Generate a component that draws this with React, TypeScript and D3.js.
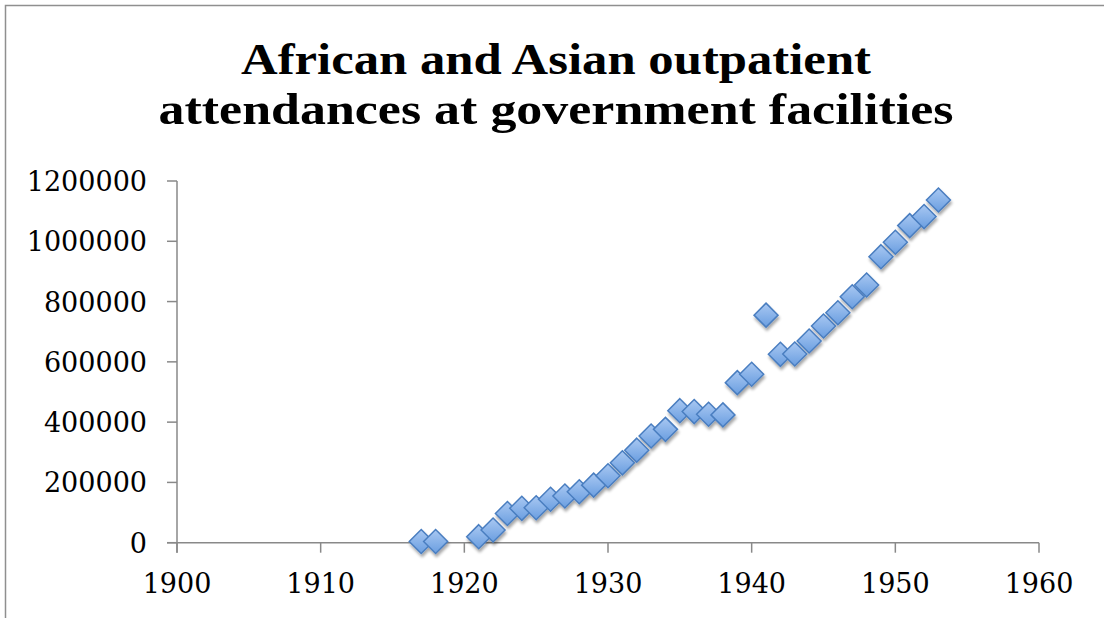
import React from "react";
import * as d3 from "d3";

const years = [1917, 1918, 1921, 1922, 1923, 1924, 1925, 1926, 1927, 1928, 1929, 1930, 1931, 1932, 1933, 1934, 1935, 1936, 1937, 1938, 1939, 1940, 1941, 1942, 1943, 1944, 1945, 1946, 1947, 1948, 1949, 1950, 1951, 1952, 1953];
const attendances = [4000, 4000, 20000, 42000, 97000, 114000, 116000, 144000, 155000, 169000, 191000, 222000, 265000, 307000, 354000, 376000, 438000, 435000, 426000, 424000, 531000, 559000, 755000, 625000, 626000, 669000, 719000, 763000, 816000, 855000, 949000, 997000, 1052000, 1082000, 1137000];
const xTicks = [1900, 1910, 1920, 1930, 1940, 1950, 1960];
const yTicks = [0, 200000, 400000, 600000, 800000, 1000000, 1200000];
const titleLines = ["African and Asian outpatient", "attendances at government facilities"];

export default function App() {
  const W = 1104, H = 618;
  const x = d3.scaleLinear().domain([1900, 1960]).range([177, 1039]);
  const y = d3.scaleLinear().domain([0, 1200000]).range([542.7, 181]);
  const r = 12;
  const diamond = (cx: number, cy: number) => `M${cx},${cy - r}L${cx + r},${cy}L${cx},${cy + r}L${cx - r},${cy}Z`;
  const axisColor = "#898989";
  const tickFont = "'DejaVu Serif', serif";
  const titleWidths = [630, 795];
  return (
    <svg width={W} height={H} style={{ position: "absolute", left: 0, top: 0, background: "#fff" }}>
      <defs>
        <linearGradient id="mk" x1="0" y1="0" x2="0" y2="1">
          <stop offset="0" stopColor="#a9c8f2" />
          <stop offset="1" stopColor="#6a9ee0" />
        </linearGradient>
        <filter id="sh" x="-50%" y="-50%" width="200%" height="200%">
          <feGaussianBlur in="SourceAlpha" stdDeviation="1.8" />
          <feOffset dx="1" dy="3" result="b" />
          <feComponentTransfer><feFuncA type="linear" slope="0.35" /></feComponentTransfer>
          <feMerge><feMergeNode /><feMergeNode in="SourceGraphic" /></feMerge>
        </filter>
      </defs>
      <rect x={5.5} y={5.5} width={W + 10} height={H + 10} fill="none" stroke="#8f8f8f" strokeWidth={1.5} />
      {titleLines.map((t, i) => (
        <text key={t} x={556} y={74 + i * 50} textAnchor="middle" textLength={titleWidths[i]} lengthAdjust="spacingAndGlyphs" fontFamily="'Liberation Serif', serif" fontWeight="bold" fontSize={45} fill="#000">{t}</text>
      ))}
      {/* y axis */}
      <line x1={x(1900)} x2={x(1900)} y1={y(1200000)} y2={y(0) + 10} stroke={axisColor} strokeWidth={1.5} />
      {yTicks.map(v => (
        <g key={v}>
          <line x1={x(1900) - 10} x2={x(1900)} y1={y(v)} y2={y(v)} stroke={axisColor} strokeWidth={1.5} />
          <text x={147} y={y(v) + 10} textAnchor="end" fontFamily={tickFont} fontSize={27} fill="#000">{v}</text>
        </g>
      ))}
      {/* x axis */}
      <line x1={x(1900) - 10} x2={x(1960)} y1={y(0)} y2={y(0)} stroke={axisColor} strokeWidth={1.5} />
      {xTicks.map(v => (
        <g key={v}>
          <line x1={x(v)} x2={x(v)} y1={y(0)} y2={y(0) + 10} stroke={axisColor} strokeWidth={1.5} />
          <text x={x(v)} y={593} textAnchor="middle" fontFamily={tickFont} fontSize={27} fill="#000">{v}</text>
        </g>
      ))}
      <g filter="url(#sh)">
        {years.map((yr, i) => (
          <path key={yr} d={diamond(x(yr), y(attendances[i]))} fill="url(#mk)" stroke="#4a7ec0" strokeWidth={1.5} />
        ))}
      </g>
    </svg>
  );
}
